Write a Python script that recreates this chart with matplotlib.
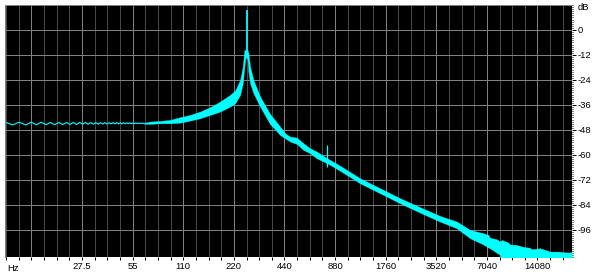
import numpy as np
import matplotlib
matplotlib.use("Agg")
import matplotlib.pyplot as plt
from matplotlib.ticker import FixedLocator, NullFormatter, MultipleLocator

plt.rcParams["font.family"] = ["Liberation Sans", "DejaVu Sans"]
plt.rcParams["axes.unicode_minus"] = False

# low-frequency ripple (Hz, dB)
ripple_hz = [9.6, 10.6, 11.6, 12.7, 13.7, 14.7, 15.7, 16.8, 17.8, 18.9, 20.0, 21.1,
             22.2, 23.3, 24.4, 25.5, 26.6, 27.7, 28.8, 29.9, 31.0, 32.1, 33.2, 34.3,
             35.4, 36.5, 37.6, 38.7, 39.8, 40.9, 42.0, 43.1, 44.2, 45.3, 46.4, 47.5,
             48.6, 49.7, 50.8, 51.9, 53.0, 54.1, 55.2, 56.3, 57.4, 58.5, 59.6, 60.7,
             61.8, 62.9, 64.0]
ripple_db = [-44.3, -45.6, -44.3, -45.6, -44.3, -45.5, -44.3, -45.5, -44.4, -45.5, -44.4, -45.4,
             -44.4, -45.4, -44.4, -45.4, -44.4, -45.3, -44.4, -45.3, -44.4, -45.3, -44.5, -45.2,
             -44.5, -45.2, -44.5, -45.2, -44.5, -45.1, -44.5, -45.1, -44.5, -45.1, -44.6, -45.1,
             -44.6, -45.0, -44.6, -45.0, -44.6, -45.0, -44.7, -45.0, -44.7, -44.9, -44.7, -44.9,
             -44.8, -44.9, -44.8]

# main spectrum band: upper / lower envelope
band_hz = [64, 69.8, 80.1, 91.8, 105.3, 120.8, 138.5, 158.8, 182.1, 208.8, 223.7, 239.6,
           248.6, 254.1, 258.5, 265.0, 268.3, 274.7, 287.3, 315.0, 361.2, 414.2, 443.6,
           475.2, 520.8, 570.0, 624.8, 684.8, 767.0, 821.6, 942.4, 1239, 1630, 2144, 2819,
           3707, 4661, 5594, 6710, 7188, 7356, 8066, 8437, 8632, 9449, 9672, 10601, 11358,
           12722, 13021, 14588, 16734, 18744, 21505, 22600]
band_hi = [-44.6, -44.0, -43.7, -43.2, -41.9, -40.8, -39.2, -37.1, -34.4, -31.2, -29.1, -24.0,
           -17.6, -9.6, -9.6, -9.6, -11.0, -17.6, -24.0, -32.0, -40.4, -46.4, -49.6,
           -51.2, -51.7, -54.4, -56.8, -58.4, -61.0, -62.4, -65.2, -71.2, -76.0, -80.8, -85.1,
           -89.3, -92.0, -96.0, -97.6, -98.4, -99.8, -100.5, -101.6, -100.8, -102.1, -103.0, -103.2, -104.0,
           -104.6, -105.3, -104.8, -106.4, -106.4, -106.9, -106.6]
band_lo = [-45.0, -45.1, -44.8, -44.8, -44.5, -43.5, -42.4, -40.8, -39.2, -36.8, -35.2, -31.2,
           -25.6, -17.6, -13.0, -14.0, -20.0, -25.6, -30.3, -36.8, -45.2, -50.4, -52.0,
           -53.6, -54.7, -57.6, -59.2, -61.6, -63.5, -64.8, -67.6, -73.6, -78.4, -83.2, -87.7,
           -92.0, -95.2, -100.0, -103.0, -104.5, -104.8, -107.0, -108.0, -112, -112, -112, -112, -112,
           -112, -112, -112, -112, -112, -112, -112]

# fundamental and 3rd harmonic spikes (Hz, top dB, bottom dB)
spike_hz = [261.6, 785.0]
spike_top = [9.6, -55.2]
spike_bot = [-12.0, -65.9]

octave_hz = [13.75, 27.5, 55, 110, 220, 440, 880, 1760, 3520, 7040, 14080]
octave_labels = ["", "27.5", "55", "110", "220", "440", "880", "1760", "3520", "7040", "14080"]
db_ticks = [0, -12, -24, -36, -48, -60, -72, -84, -96]

CYAN = "#00ffff"

fig = plt.figure(figsize=(5.95, 2.74), dpi=100, facecolor="white")
ax = fig.add_axes([4.5 / 595, 17 / 274, 567.5 / 595, 252.5 / 274])
ax.set_facecolor("black")
ax.set_xscale("log", base=2)
ax.set_xlim(9.5, 22600)
ax.set_ylim(-109, 12.2)
ax.set_axisbelow(True)

ax.plot(ripple_hz, ripple_db, color=CYAN, lw=0.8)
ax.fill_between(band_hz, band_lo, band_hi, facecolor=CYAN, edgecolor=CYAN, lw=0.25)
ax.vlines(spike_hz, spike_bot, spike_top, colors=CYAN, lw=[1.3, 0.9])

# quarter-octave minor grid
quarter_hz = []
for f in [6.875] + octave_hz:
    for q in (0.25, 0.5, 0.75):
        quarter_hz.append(f * 2 ** q)
quarter_hz = [f for f in quarter_hz if 9.5 < f < 22600]

ax.xaxis.set_major_locator(FixedLocator(octave_hz))
ax.set_xticklabels(octave_labels)
ax.xaxis.set_minor_locator(FixedLocator(quarter_hz))
ax.xaxis.set_minor_formatter(NullFormatter())
ax.tick_params(axis="x", which="both", direction="out", length=2.2, width=0.72,
               color="black", pad=1.5, labelsize=6.8)

ax.yaxis.tick_right()
ax.set_yticks(db_ticks)
ax.set_yticklabels([str(v) for v in db_ticks])
ax.yaxis.set_minor_locator(MultipleLocator(1))
ax.tick_params(axis="y", which="major", direction="out", length=2.8, width=0.72,
               color="black", pad=1.5, labelsize=6.8)
ax.tick_params(axis="y", which="minor", direction="out", length=1.0, width=0.72, color="black")

ax.grid(True, which="minor", axis="x", color="#484848", lw=0.72)
ax.grid(True, which="major", axis="x", color="#808080", lw=0.72)
ax.grid(True, which="major", axis="y", color="#808080", lw=0.72)

for side in ("right", "bottom"):
    ax.spines[side].set_visible(False)
for side in ("top", "left"):
    ax.spines[side].set_color("#808080")
    ax.spines[side].set_linewidth(0.72)

fig.text(578 / 595, 1 - 8 / 274, "dB", ha="left", va="center", fontsize=6.8)
fig.text(7.5 / 595, 1 - 268.3 / 274, "Hz", ha="left", va="center", fontsize=6.8)

fig.savefig("out.png", dpi=100, facecolor="white")
